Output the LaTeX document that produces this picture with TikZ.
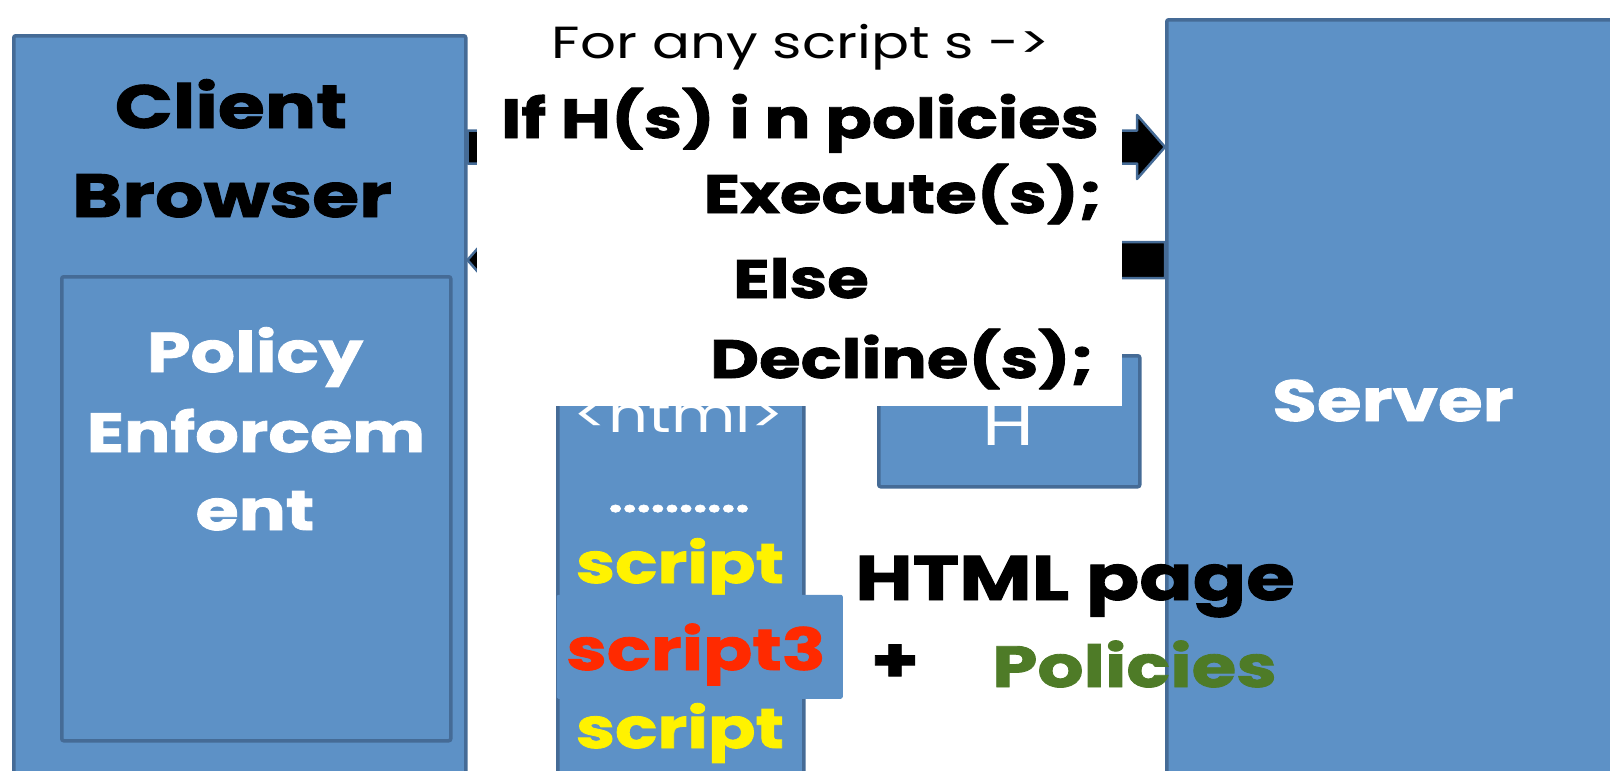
\documentclass[tikz,border=0pt]{standalone}
\usepackage{fontspec}
\setmainfont{Poppins}[FakeStretch=1.25, BoldFeatures={FakeBold=1.5}]
\usetikzlibrary{calc}

\definecolor{boxblue}{RGB}{93,145,198}
\definecolor{boxline}{RGB}{69,107,150}
\definecolor{scriptred}{RGB}{255,42,0}
\definecolor{policygreen}{RGB}{78,123,39}

\newcommand{\fsz}[1]{\fontsize{#1}{#1}\selectfont}
% block arrow: tail, tip, half shaft width
\newcommand{\flowarrow}[3]{%
  \coordinate (hb) at ($(#2)!28pt!(#1)$);
  \draw[flow] ($(#1)!#3!90:(#2)$) -- ($(hb)!#3!90:(#2)$) -- ($(hb)!32pt!90:(#2)$)
    -- (#2) -- ($(hb)!32pt!-90:(#2)$) -- ($(hb)!#3!-90:(#2)$) -- ($(#1)!#3!-90:(#2)$) -- cycle;}

\begin{document}
\begin{tikzpicture}[x=1pt,y=-1pt,
  box/.style={draw=boxline, line width=3.5pt, fill=boxblue, rounded corners=2pt, anchor=north west, inner sep=0pt},
  flow/.style={draw=boxline, line width=2.5pt, fill=black, line join=round},
  heavy/.style={anchor=base, inner sep=0pt, font=\bfseries\fsz{#1}},
  light/.style={anchor=base, inner sep=0pt, font=\fsz{#1}}]
 \useasboundingbox (0,0) rectangle (1610,771);
%
 \node[box, minimum width=452pt, minimum height=760pt] (client) at (12,34) {};
 \node[box, minimum width=389pt, minimum height=464pt] (enforce) at (60,275) {};
 \node[box, minimum width=460pt, minimum height=800pt] (server) at (1165,18) {};
%
 \coordinate (reqA) at (client.east |- 0,147);
 \coordinate (reqB) at (server.west |- 0,147);
 \coordinate (respA) at (server.west |- 0,260);
 \coordinate (respB) at (client.east |- 0,260);
 \flowarrow{reqA}{reqB}{16.5pt}
 \flowarrow{respA}{respB}{18pt}
%
 \node[box, minimum width=246pt, minimum height=400pt] (page) at (556,390) {};
 \node[light=50, white] (tagtxt) at (679,432) {<html>};
 \node[heavy=40, white] (dots) at (679,512) {..........};
 \node[heavy=56, yellow] (scriptA) at (680,583) {script};
 \node[box, draw=none, minimum width=286pt, minimum height=104pt] (bad) at (555,593) {};
 \node[heavy=58, scriptred] (scriptC) at (696,670) {script3};
 \node[heavy=56, yellow] (scriptB) at (680,748) {script};
%
 \node[box, minimum width=261pt, minimum height=131pt] (hash) at (877,354) {};
 \node[light=60, white] (hashtxt) at (1008,445) {H};
%
 \fill[white] (477,0) rectangle (1122,406);
 \node[light=45] (rule) at (801,58) {For any script s ->};
 \node[heavy=55] (ruleA) at (800,138) {If H(s) i n policies};
 \node[heavy=54] (ruleB) at (903,213) {Execute(s);};
 \node[heavy=54] (ruleC) at (801,298) {Else};
 \node[heavy=54] (ruleD) at (902,378) {Decline(s);};
%
 \node[heavy=63, anchor=base west] (pagetxt) at (855,600) {HTML page};
 \node[heavy=62] (plus) at (895,682) {+};
 \node[heavy=58, policygreen, anchor=base west] (poltxt) at (992,687) {Policies};
%
 \node[heavy=58, white] (servertxt) at (1393,421) {Server};
 \node[heavy=61] (clientA) at (231,128) {Client};
 \node[heavy=61] (clientB) at (232,217) {Browser};
 \node[heavy=56, white] (enfA) at (255,372) {Policy};
 \node[heavy=55, white] (enfB) at (256,452) {Enforcem};
 \node[heavy=56, white] (enfC) at (255,530) {ent};
\end{tikzpicture}
\end{document}
